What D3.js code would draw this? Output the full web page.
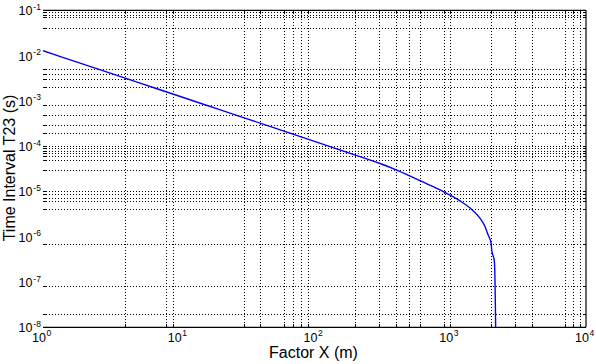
<!DOCTYPE html>
<html>
<head>
<meta charset="utf-8">
<script src="https://cdn.jsdelivr.net/npm/d3@7"></script>
<style>
  html, body { margin: 0; padding: 0; background: #fff; }
  svg { display: block; }
  text { font-family: "Liberation Sans", Arial, Helvetica, sans-serif; fill: #000; }
</style>
</head>
<body>
<svg id="chart" width="596" height="364"></svg>
<script>
// ---- data ----
const curveX = [1, 2, 5, 10, 20, 50, 100, 200, 300, 400, 530, 700, 890, 1180, 1440, 1660, 1800, 1900, 2000, 2020, 2080, 2110, 2136, 2150, 2160];
const curveT = [1.28e-2, 6.4e-3, 2.56e-3, 1.28e-3, 6.4e-4, 2.56e-4, 1.28e-4, 6.35e-5, 4.2e-5, 3.0e-5, 2.05e-5, 1.4e-5, 9.9e-6, 6.2e-6, 4.0e-6, 2.55e-6, 1.7e-6, 1.1e-6, 7.2e-7, 5.1e-7, 3.6e-7, 3.0e-7, 1.1e-7, 3e-8, 1e-8];

const xTickExps = [0, 1, 2, 3, 4];
const yTickExps = [-1, -2, -3, -4, -5, -6, -7, -8];

const xGrid = [4, 8, 9, 30, 40, 60, 70, 80, 90, 200, 300, 400, 500, 600, 900, 1000, 2000, 3000, 4000, 7000, 8000, 9000];
const yGrid = [0.09, 0.08, 0.07, 0.04, 5e-3, 4e-3, 3e-3, 2e-3, 8e-4, 5e-4, 3e-4, 2e-4,
               1e-4, 9e-5, 8e-5, 7e-5, 6e-5, 5e-5, 3e-5, 1e-5, 9e-6, 7e-6, 6e-6, 4e-6,
               7e-7, 8e-8, 2e-8];

const xTitle = "Factor X (m)";
const yTitle = "Time Interval T23 (s)";

// ---- layout ----
const L = 43, R = 586, T = 10.3, B = 327.3;
const svg = d3.select("#chart");

const x = d3.scaleLog().domain([1, 1e4]).range([L, R]);
const y = d3.scaleLog().domain([1e-8, 1e-1]).range([B, T]);

svg.append("defs").append("clipPath").attr("id", "plotclip")
  .append("rect").attr("x", L).attr("y", T).attr("width", R - L).attr("height", B - T);

// grid lines
const grid = svg.append("g").attr("stroke", "#000").attr("stroke-width", 1)
  .attr("stroke-dasharray", "1,2").attr("shape-rendering", "crispEdges");
grid.selectAll(".vg").data(xGrid).enter().append("line")
  .attr("x1", d => Math.round(x(d)) + 0.5).attr("x2", d => Math.round(x(d)) + 0.5)
  .attr("y1", T).attr("y2", B);
grid.selectAll(".hg").data(yGrid).enter().append("line")
  .attr("y1", d => Math.round(y(d)) + 0.5).attr("y2", d => Math.round(y(d)) + 0.5)
  .attr("x1", L).attr("x2", R);

// small inward ticks at grid positions
const ticks = svg.append("g").attr("stroke", "#000").attr("stroke-width", 1).attr("shape-rendering", "crispEdges");
yGrid.forEach(d => {
  const yy = Math.round(y(d)) + 0.5;
  ticks.append("line").attr("x1", L).attr("x2", L + 3).attr("y1", yy).attr("y2", yy);
  ticks.append("line").attr("x1", R - 3).attr("x2", R).attr("y1", yy).attr("y2", yy);
});
xGrid.forEach(d => {
  const xx = Math.round(x(d)) + 0.5;
  ticks.append("line").attr("x1", xx).attr("x2", xx).attr("y1", B - 3).attr("y2", B);
  ticks.append("line").attr("x1", xx).attr("x2", xx).attr("y1", T).attr("y2", T + 3);
});

// box (top, right, bottom)
const box = svg.append("g").attr("stroke", "#000").attr("stroke-width", 1.2).attr("fill", "none");
box.append("line").attr("x1", L).attr("x2", R).attr("y1", T).attr("y2", T);
box.append("line").attr("x1", R).attr("x2", R).attr("y1", T).attr("y2", B);
box.append("line").attr("x1", L).attr("x2", R).attr("y1", B).attr("y2", B);

// curve
const pts = curveX.map((v, i) => [v, curveT[i]]);
const line = d3.line().x(d => x(d[0])).y(d => y(d[1])).curve(d3.curveMonotoneX);
svg.append("path").datum(pts)
  .attr("clip-path", "url(#plotclip)")
  .attr("fill", "none").attr("stroke", "#0000ff").attr("stroke-width", 1.4)
  .attr("d", line);

// x tick labels
const xl = svg.append("g");
xTickExps.forEach(e => {
  const px = x(Math.pow(10, e));
  xl.append("text").attr("x", px - 4).attr("y", 342).attr("text-anchor", "middle")
    .attr("font-size", 12.5).text("10");
  xl.append("text").attr("x", px + 3.5).attr("y", 336).attr("text-anchor", "start")
    .attr("font-size", 8.5).text(String(e));
});

// y tick labels
const yl = svg.append("g");
yTickExps.forEach(e => {
  const py = y(Math.pow(10, e));
  yl.append("text").attr("x", 32.5).attr("y", py + 5).attr("text-anchor", "end")
    .attr("font-size", 12.5).text("10");
  yl.append("text").attr("x", 33.3).attr("y", py - 0.5).attr("text-anchor", "start")
    .attr("font-size", 8.5).text(String(e));
});

// axis titles
svg.append("text").attr("x", 313.5).attr("y", 358).attr("text-anchor", "middle")
  .attr("font-size", 16).text(xTitle);
svg.append("text").attr("transform", "translate(15,168) rotate(-90)")
  .attr("text-anchor", "middle").attr("font-size", 16).text(yTitle);
</script>
</body>
</html>
